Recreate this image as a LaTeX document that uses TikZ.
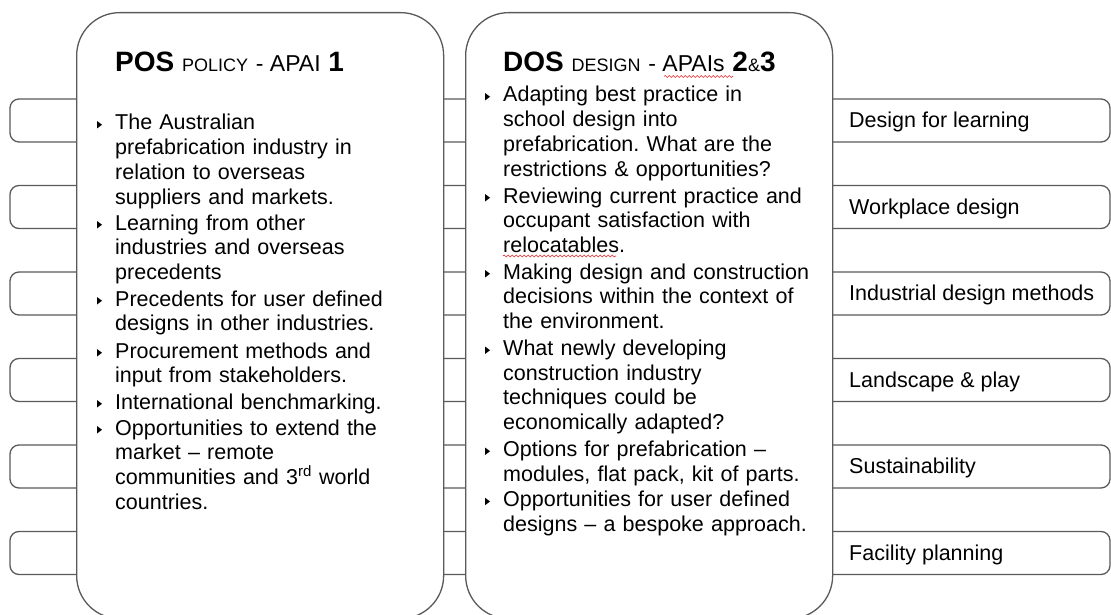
\documentclass[tikz,border=0pt]{standalone}
\usepackage{fontspec}
\setmainfont{Liberation Sans}
\usetikzlibrary{decorations.pathmorphing}
\definecolor{lineGray}{RGB}{90,90,90}
\definecolor{spellRed}{RGB}{230,40,40}
\frenchspacing

\begin{document}
\begin{tikzpicture}
[x=1pt,y=-1pt,%
  bandDecorate/.style={draw=lineGray,line width=1.3pt,fill=white,rounded corners=9pt,minimum width=1100pt,minimum height=43pt},%
  panelDecorate/.style={draw=lineGray,line width=1.3pt,fill=white,rounded corners=43pt,minimum width=367pt,minimum height=606pt,anchor=north west},%
  itemDecorate/.style={anchor=base west,inner sep=0pt,text width=340pt,align=left,font=\fontsize{21.5}{24.7}\selectfont},%
  labelDecorate/.style={anchor=base west,inner sep=0pt,font=\fontsize{21.5}{24.7}\selectfont},%
  titleDecorate/.style={anchor=base west,inner sep=0pt},%
  squiggleDecorate/.style={draw=spellRed,line width=0.6pt,decorate,decoration={snake,amplitude=1pt,segment length=4pt}}]
\clip (0,0) rectangle (1111,615);
\fill[white] (0,0) rectangle (1111,615);
%% bands behind the panels
\foreach \bandname/\y in {band1/99, band2/185.5, band3/272, band4/358.5, band5/445, band6/531.5}
{
  \node (\bandname) at (560,\y+21.5) [bandDecorate] {};
}
%% the two panels
\node (pos) at (76,12) [panelDecorate] {};
\node (dos) at (465,12) [panelDecorate] {};
%% titles
\node (posTitle) at (115,72) [titleDecorate] {\fontsize{28}{30}\selectfont\bfseries POS {\fontsize{18}{20}\selectfont\mdseries POLICY} {\fontsize{23}{25}\selectfont\mdseries - APAI} 1};
\node (dosTitle) at (503,72) [titleDecorate] {\fontsize{28}{30}\selectfont\bfseries DOS {\fontsize{18}{20}\selectfont\mdseries DESIGN} {\fontsize{23}{25}\selectfont\mdseries - APAIs} 2{\fontsize{18}{20}\selectfont\mdseries\&}3};
%% bullet items
\foreach \itemname/\x/\y/\txt in {
  pos1/115/130/{The Australian\\prefabrication industry in\\relation to overseas\\suppliers and markets.},
  pos2/115/230/{Learning from other\\industries and overseas\\precedents},
  pos3/115/306/{Precedents for user defined\\designs in other industries.},
  pos4/115/358/{Procurement methods and\\input from stakeholders.},
  pos5/115/409/{International benchmarking.},
  pos6/115/435/{Opportunities to extend the\\market – remote\\communities and 3\textsuperscript{rd} world\\countries.},
  dos1/503/102/{Adapting best practice in\\school design into\\prefabrication. What are the\\restrictions \& opportunities?},
  dos2/503/203/{Reviewing current practice and\\occupant satisfaction with\\relocatables.},
  dos3/503/279/{Making design and construction\\decisions within the context of\\the environment.},
  dos4/503/355.5/{What newly developing\\construction industry\\techniques could be\\economically adapted?},
  dos5/503/456.5/{Options for prefabrication –\\modules, flat pack, kit of parts.},
  dos6/503/506.7/{Opportunities for user defined\\designs – a bespoke approach.}}
{
  \node (\itemname) at (\x,\y) [itemDecorate] {\txt};
  \fill[shift={(\itemname.base west)}] (-18,-9) -- (-18,-1.5) -- (-13,-5.25) -- cycle;
}
%% labels on the right
\foreach \lblname/\y/\lbltext in {
  lblLearning/99/Design for learning, lblWorkplace/185.5/Workplace design,
  lblIndustrial/272/Industrial design methods, lblLandscape/358.5/Landscape \& play,
  lblSustain/445/Sustainability, lblFacility/531.5/Facility planning}
{
  \node (\lblname) at (849,\y+28.5) [labelDecorate] {\lbltext};
}
%% spell check marks
\draw[squiggleDecorate] (664,76.5) -- (733,76.5);
\draw[squiggleDecorate] (503,256) -- (616,256);
\end{tikzpicture}
\end{document}
